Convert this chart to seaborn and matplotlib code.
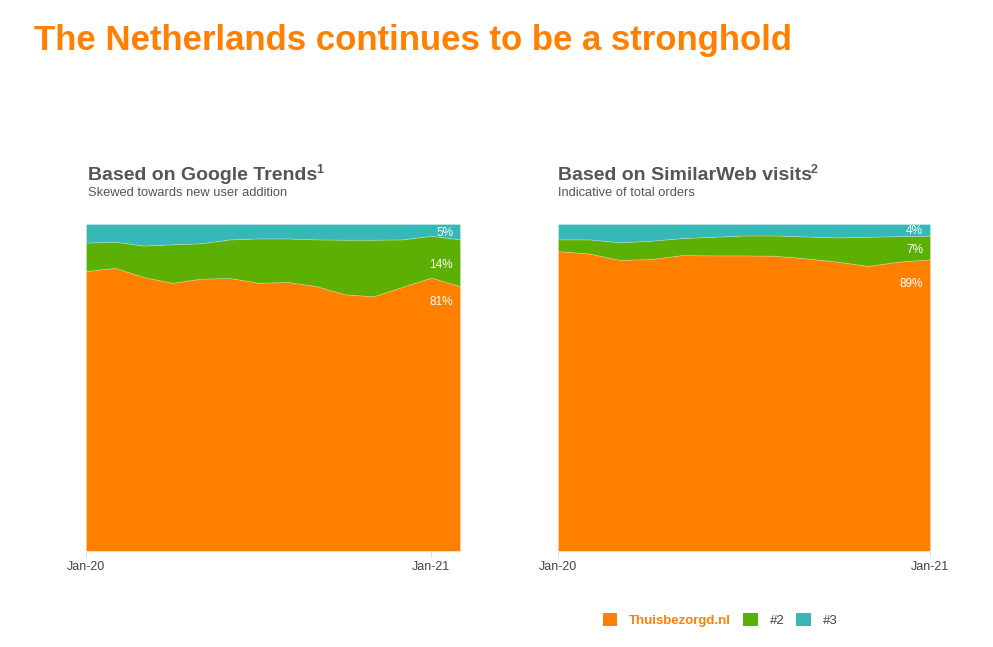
import matplotlib
matplotlib.use("Agg")
import matplotlib.pyplot as plt
from matplotlib.patches import Patch
import seaborn as sns

# ---- data ----
months_left = ["Jan-20", "Feb-20", "Mar-20", "Apr-20", "May-20", "Jun-20", "Jul-20",
               "Aug-20", "Sep-20", "Oct-20", "Nov-20", "Dec-20", "Jan-21", "Feb-21"]
gt_thuis = [85.6, 86.6, 83.8, 82.0, 83.3, 83.5, 82.0, 82.3, 81.0, 78.5, 77.9, 80.8, 83.6, 81.0]
gt_n2 = [8.7, 8.0, 9.6, 11.8, 10.8, 11.8, 13.6, 13.3, 14.3, 16.7, 17.3, 14.5, 12.8, 14.3]
gt_n3 = [5.7, 5.4, 6.6, 6.2, 5.9, 4.7, 4.4, 4.4, 4.7, 4.8, 4.8, 4.7, 3.6, 4.7]

months_right = months_left[:13]
sw_thuis = [91.7, 91.0, 89.0, 89.3, 90.5, 90.4, 90.4, 90.3, 89.5, 88.5, 87.2, 88.5, 89.2]
sw_n2 = [3.6, 4.3, 5.4, 5.6, 5.2, 5.7, 6.1, 6.2, 6.7, 7.4, 8.9, 7.8, 7.2]
sw_n3 = [4.7, 4.7, 5.6, 5.1, 4.3, 3.9, 3.5, 3.5, 3.8, 4.1, 3.9, 3.7, 3.6]

tick_labels = ["Jan-20", "Jan-21"]
series_names = ["Thuisbezorgd.nl", "#2", "#3"]
end_labels_left = ["81%", "14%", "5%"]
end_labels_right = ["89%", "7%", "4%"]

title = "The Netherlands continues to be a stronghold"
left_title = "Based on Google Trends"
left_sub = "Skewed towards new user addition"
right_title = "Based on SimilarWeb visits"
right_sub = "Indicative of total orders"

# ---- style ----
sns.set_theme(style="white")
plt.rcParams["font.family"] = ["Liberation Sans", "DejaVu Sans"]

colors = ["#FF7F00", "#5CB004", "#36B8B7"]
orange = "#FF7F00"
gray_title = "#555555"
gray_text = "#555555"

fig = plt.figure(figsize=(9.93, 6.47), dpi=100)
W, H = 993, 647

def ax_at(x0, y0, x1, y1):
    return fig.add_axes([x0 / W, 1 - y1 / H, (x1 - x0) / W, (y1 - y0) / H])

ax_l = ax_at(86, 224, 460, 551)
ax_r = ax_at(558, 224, 930, 551)

def draw(ax, months, a, b, c, labels, low_off):
    x = list(range(len(months)))
    ax.stackplot(x, a, b, c, colors=colors, linewidth=0.6,
                 edgecolor="#ffffff40")
    ax.set_xlim(0, len(months) - 1)
    ax.set_ylim(0, 100)
    ax.set_yticks([])
    ax.set_xticks([0, 12])
    ax.set_xticklabels(tick_labels, color="#444444", fontsize=9)
    ax.tick_params(axis="x", length=4, width=0.8, color="#dddddd", pad=3, bottom=True)
    sns.despine(ax=ax, left=True, top=True, right=True)
    ax.spines["bottom"].set_color("#e0e0e0")
    ax.spines["bottom"].set_linewidth(0.8)
    ys = [a[-1] - low_off, a[-1] + b[-1] / 2 - 0.6, 100 - c[-1] / 2 - 0.4]
    for lab, yv in zip(labels, ys):
        ax.annotate(lab, xy=(len(months) - 1, yv), xytext=(-5, 0),
                    textcoords="offset points", ha="right", va="center",
                    color="white", fontsize=8.5)

draw(ax_l, months_left, gt_thuis, gt_n2, gt_n3, end_labels_left, 5)
draw(ax_r, months_right, sw_thuis, sw_n2, sw_n3, end_labels_right, 7.5)

# titles
fig.text(34 / W, 1 - 50 / H, title, color=orange, fontsize=25,
         fontweight="bold", ha="left", va="baseline")

def panel_title(x, main, sup, sub):
    t = fig.text(x / W, 1 - 180 / H, main, color=gray_title, fontsize=14,
                 fontweight="bold", ha="left", va="baseline")
    fig.canvas.draw()
    bb = t.get_window_extent()
    fig.text((bb.x1 - 1) / W, 1 - 173 / H, sup, color=gray_title, fontsize=9,
             fontweight="bold", ha="left", va="baseline")
    fig.text(x / W, 1 - 196 / H, sub, color=gray_text, fontsize=9.3,
             ha="left", va="baseline")

panel_title(88, left_title, "1", left_sub)
panel_title(558, right_title, "2", right_sub)

# legend
handles = [Patch(facecolor=c_, edgecolor="none") for c_ in colors]
leg = fig.legend(handles, series_names, loc="center", bbox_to_anchor=(720 / W, 1 - 620 / H),
                 ncol=3, frameon=False, fontsize=9.5, handlelength=1.1, handleheight=1.1,
                 handletextpad=0.9, columnspacing=0.9, borderaxespad=0)
for t in leg.get_texts():
    t.set_color("#444444")
leg.get_texts()[0].set_color(orange)
leg.get_texts()[0].set_fontweight("bold")

fig.savefig("out.png", dpi=100, facecolor="white")
